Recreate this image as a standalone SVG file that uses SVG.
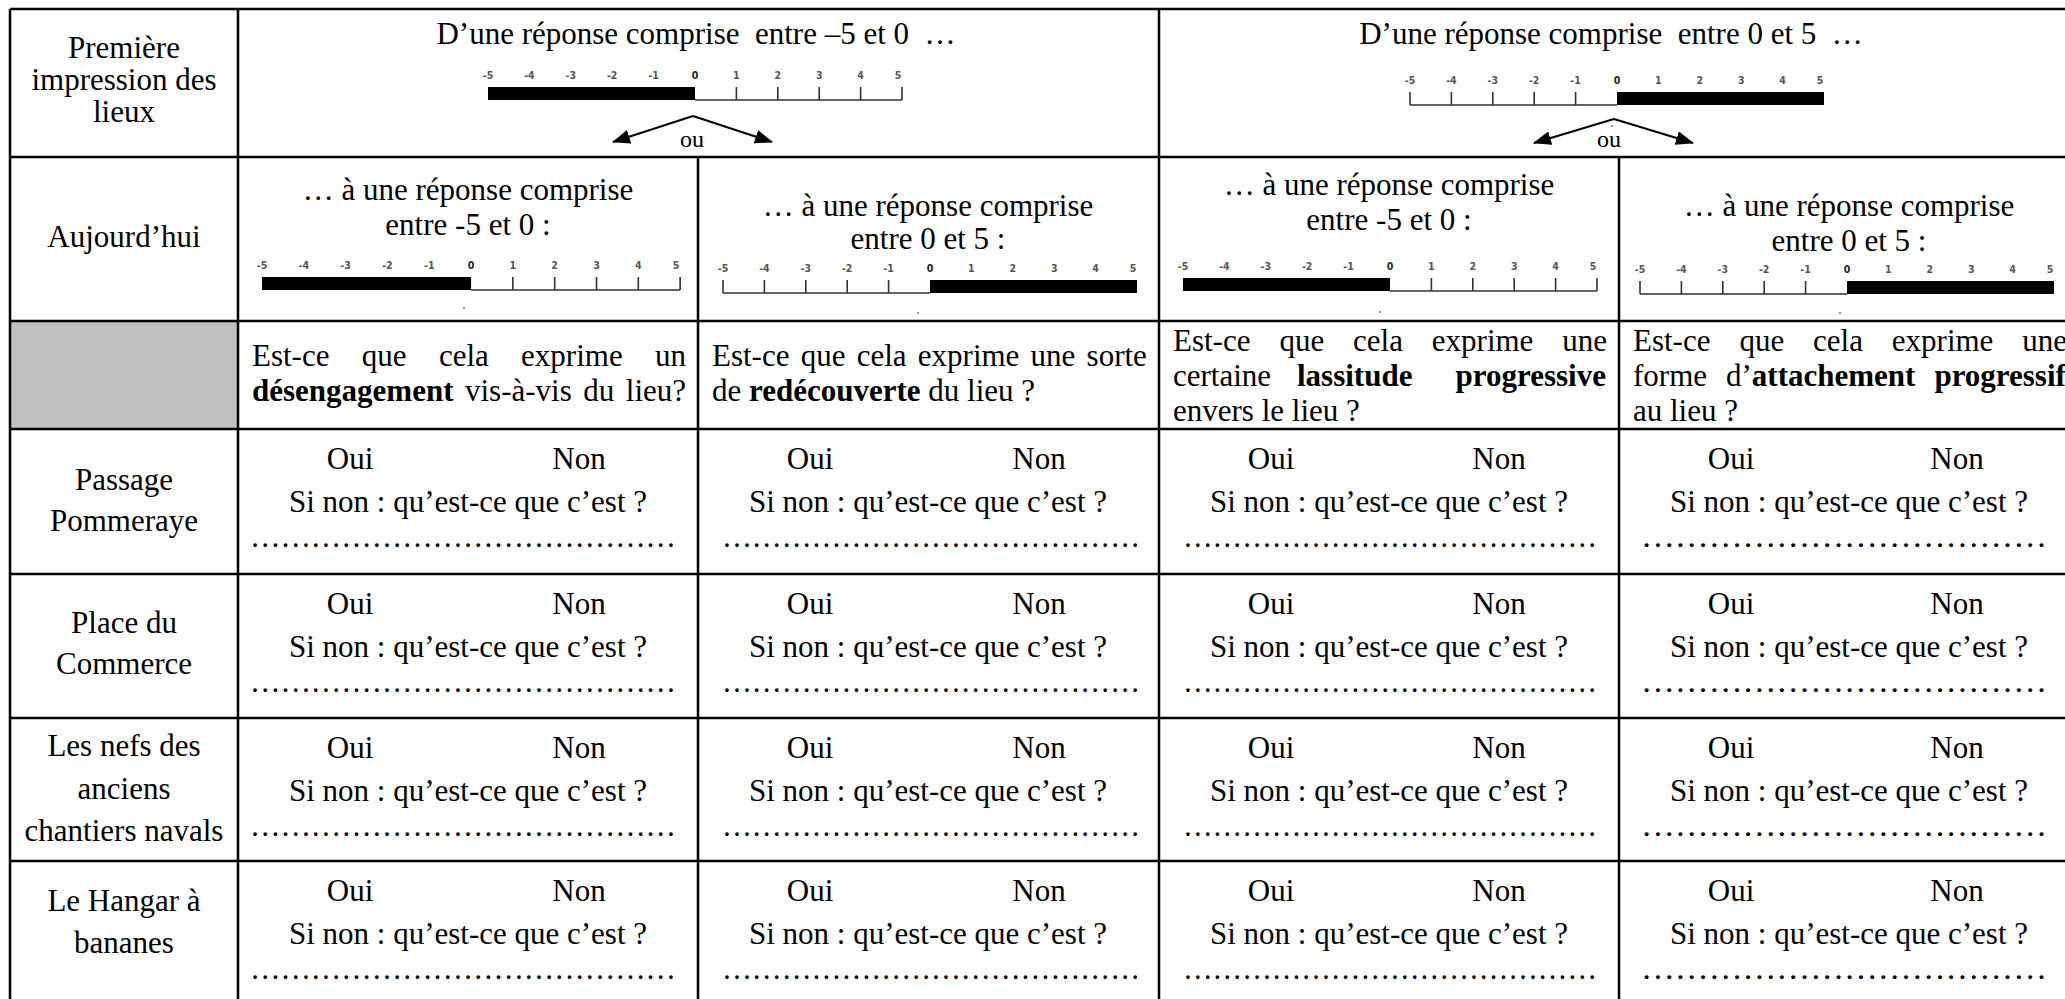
<svg xmlns="http://www.w3.org/2000/svg" width="2065" height="999" viewBox="0 0 2065 999">
<defs>
<style>
.t{font-family:"Liberation Serif","Times New Roman",serif;font-size:31px;fill:#000}
.m{text-anchor:middle}
.b{font-weight:bold}
.lb{font-family:"DejaVu Sans Condensed","DejaVu Sans",sans-serif;font-size:10.5px;font-weight:bold;fill:#555;text-anchor:middle}
.g{stroke:#000;stroke-width:2.5;fill:none}
.s{stroke:#333;stroke-width:1.6;fill:none}
.ar{stroke:#000;stroke-width:2;fill:none;marker-end:url(#ah)}
.dot{fill:#999}
</style>
<marker id="ah" viewBox="0 0 18 14" refX="17" refY="7" markerWidth="18" markerHeight="14" orient="auto" markerUnits="userSpaceOnUse">
<path d="M0,0 L18,7 L0,14 z" fill="#000"/>
</marker>
<g id="lbls">
<text class="lb" x="0" y="-8">-5</text><text class="lb" x="41.4" y="-8">-4</text><text class="lb" x="82.8" y="-8">-3</text><text class="lb" x="124.2" y="-8">-2</text><text class="lb" x="165.6" y="-8">-1</text><text class="lb" x="207" y="-8" style="fill:#222">0</text><text class="lb" x="248.4" y="-8">1</text><text class="lb" x="289.8" y="-8">2</text><text class="lb" x="331.2" y="-8">3</text><text class="lb" x="372.6" y="-8">4</text><text class="lb" x="410" y="-8">5</text>
</g>
<g id="scL">
<use href="#lbls"/>
<rect x="0" y="0" width="207" height="13" fill="#000"/>
<path class="s" d="M207,13 H414 M248.4,0 V13 M289.8,0 V13 M331.2,0 V13 M372.6,0 V13 M414,0 V13"/>
</g>
<g id="scR">
<use href="#lbls"/>
<rect x="207" y="0" width="207" height="13" fill="#000"/>
<path class="s" d="M0,13 H207 M0,0 V13 M41.4,0 V13 M82.8,0 V13 M124.2,0 V13 M165.6,0 V13"/>
</g>
</defs>
<rect x="0" y="0" width="2065" height="999" fill="#fff"/>

<g id="grid">
<rect x="10" y="321" width="228" height="108" fill="#c0c0c0"/>
<path class="g" d="M10,9 H2075 M10,157 H2075 M10,321 H2075 M10,429 H2075 M10,574 H2075 M10,718 H2075 M10,861 H2075 M10,1005 H2075 M10,9 V1005 M238,9 V1005 M1159,9 V1005 M698,157 V1005 M1619,157 V1005"/>
</g>

<g id="h-label">
<text class="t m" x="124" y="58">Première</text>
<text class="t m" x="124" y="90">impression des</text>
<text class="t m" x="124" y="122">lieux</text>
</g>
<g id="h-neg">
<text class="t m" x="696" y="44" xml:space="preserve">D’une réponse comprise  entre –5 et 0  …</text>
<use href="#scL" transform="translate(488,87)"/>
<text class="t m" x="692" y="147" style="font-size:24px">ou</text>
</g>
<g id="h-pos">
<text class="t m" x="1611" y="44" xml:space="preserve">D’une réponse comprise  entre 0 et 5  …</text>
<use href="#scR" transform="translate(1410,92)"/>
<rect class="dot" x="1611" y="125" width="2" height="2"/>
<text class="t m" x="1609" y="147" style="font-size:24px">ou</text>
</g>

<g id="connectors">
<path class="ar" d="M693,116 L613,142"/>
<path class="ar" d="M693,116 L772,142"/>
<path class="ar" d="M1614,119 L1534,143"/>
<path class="ar" d="M1614,119 L1693,143"/>
</g>

<g id="r2-label"><text class="t m" x="124" y="247">Aujourd’hui</text></g>
<g id="r2-c1">
<text class="t m" x="468" y="200">… à une réponse comprise</text>
<text class="t m" x="468" y="235">entre -5 et 0 :</text>
<use href="#scL" transform="translate(262,277) scale(1.01,1)"/>
<rect class="dot" x="463" y="307" width="2" height="2"/>
</g>
<g id="r2-c2">
<text class="t m" x="928" y="216">… à une réponse comprise</text>
<text class="t m" x="928" y="249">entre 0 et 5 :</text>
<use href="#scR" transform="translate(723,280)"/>
<rect class="dot" x="917" y="312" width="2" height="2"/>
</g>
<g id="r2-c3">
<text class="t m" x="1389" y="195">… à une réponse comprise</text>
<text class="t m" x="1389" y="230">entre -5 et 0 :</text>
<use href="#scL" transform="translate(1183,278)"/>
<rect class="dot" x="1379" y="311" width="2" height="2"/>
</g>
<g id="r2-c4">
<text class="t m" x="1849" y="216">… à une réponse comprise</text>
<text class="t m" x="1849" y="251">entre 0 et 5 :</text>
<use href="#scR" transform="translate(1640,281)"/>
<rect class="dot" x="1839" y="312" width="2" height="2"/>
</g>

<g id="r3-c1">
<text class="t" y="366"><tspan x="252">Est-ce</tspan><tspan x="361.8">que</tspan><tspan x="438.9">cela</tspan><tspan x="521.1">exprime</tspan><tspan x="655">un</tspan></text>
<text class="t" y="401"><tspan x="252" class="b">désengagement</tspan><tspan x="465">vis-à-vis</tspan><tspan x="583.3">du</tspan><tspan x="625.8">lieu?</tspan></text>
</g>
<g id="r3-c2">
<text class="t" y="366"><tspan x="712">Est-ce</tspan><tspan x="800.7">que</tspan><tspan x="856.7">cela</tspan><tspan x="917.8">exprime</tspan><tspan x="1030.6">une</tspan><tspan x="1086.6">sorte</tspan></text>
<text class="t" x="712" y="401">de <tspan class="b">redécouverte</tspan> du lieu ?</text>
</g>
<g id="r3-c3">
<text class="t" y="351"><tspan x="1173">Est-ce</tspan><tspan x="1279.4">que</tspan><tspan x="1353">cela</tspan><tspan x="1431.8">exprime</tspan><tspan x="1562.2">une</tspan></text>
<text class="t" y="386"><tspan x="1173">certaine</tspan><tspan x="1297" class="b">lassitude</tspan><tspan x="1455.5" class="b">progressive</tspan></text>
<text class="t" x="1173" y="421">envers le lieu ?</text>
</g>
<g id="r3-c4">
<text class="t" y="351"><tspan x="1633">Est-ce</tspan><tspan x="1739.4">que</tspan><tspan x="1813">cela</tspan><tspan x="1891.8">exprime</tspan><tspan x="2022.2">une</tspan></text>
<text class="t" y="386"><tspan x="1633">forme</tspan><tspan x="1726">d’<tspan class="b">attachement</tspan></tspan><tspan x="1934.4" class="b">progressif</tspan></text>
<text class="t" x="1633" y="421">au lieu ?</text>
</g>

<g id="r4-label">
<text class="t m" x="124" y="490">Passage</text>
<text class="t m" x="124" y="531">Pommeraye</text>
</g>
<g id="r5-label">
<text class="t m" x="124" y="633">Place du</text>
<text class="t m" x="124" y="674">Commerce</text>
</g>
<g id="r6-label">
<text class="t m" x="124" y="756">Les nefs des</text>
<text class="t m" x="124" y="799">anciens</text>
<text class="t m" x="124" y="841">chantiers navals</text>
</g>
<g id="r7-label">
<text class="t m" x="124" y="911">Le Hangar à</text>
<text class="t m" x="124" y="953">bananes</text>
</g>

<g id="answers">
<g id="r4-cells">
<text class="t m" x="350" y="469">Oui</text><text class="t m" x="579" y="469">Non</text>
<text class="t m" x="468" y="512">Si non : qu’est-ce que c’est ?</text>
<text class="t" x="250" y="547" textLength="426" lengthAdjust="spacingAndGlyphs">……………………………………</text>
<text class="t m" x="810" y="469">Oui</text><text class="t m" x="1039" y="469">Non</text>
<text class="t m" x="928" y="512">Si non : qu’est-ce que c’est ?</text>
<text class="t" x="722" y="547" textLength="418" lengthAdjust="spacingAndGlyphs">……………………………………</text>
<text class="t m" x="1271" y="469">Oui</text><text class="t m" x="1499" y="469">Non</text>
<text class="t m" x="1389" y="512">Si non : qu’est-ce que c’est ?</text>
<text class="t" x="1183" y="547" textLength="414" lengthAdjust="spacingAndGlyphs">……………………………………</text>
<text class="t m" x="1731" y="469">Oui</text><text class="t m" x="1957" y="469">Non</text>
<text class="t m" x="1849" y="512">Si non : qu’est-ce que c’est ?</text>
<text class="t" x="1641" y="547" textLength="406" lengthAdjust="spacingAndGlyphs">………………………………</text>
</g>
<g id="r5-cells">
<text class="t m" x="350" y="614">Oui</text><text class="t m" x="579" y="614">Non</text>
<text class="t m" x="468" y="657">Si non : qu’est-ce que c’est ?</text>
<text class="t" x="250" y="692" textLength="426" lengthAdjust="spacingAndGlyphs">……………………………………</text>
<text class="t m" x="810" y="614">Oui</text><text class="t m" x="1039" y="614">Non</text>
<text class="t m" x="928" y="657">Si non : qu’est-ce que c’est ?</text>
<text class="t" x="722" y="692" textLength="418" lengthAdjust="spacingAndGlyphs">……………………………………</text>
<text class="t m" x="1271" y="614">Oui</text><text class="t m" x="1499" y="614">Non</text>
<text class="t m" x="1389" y="657">Si non : qu’est-ce que c’est ?</text>
<text class="t" x="1183" y="692" textLength="414" lengthAdjust="spacingAndGlyphs">……………………………………</text>
<text class="t m" x="1731" y="614">Oui</text><text class="t m" x="1957" y="614">Non</text>
<text class="t m" x="1849" y="657">Si non : qu’est-ce que c’est ?</text>
<text class="t" x="1641" y="692" textLength="406" lengthAdjust="spacingAndGlyphs">………………………………</text>
</g>
<g id="r6-cells">
<text class="t m" x="350" y="758">Oui</text><text class="t m" x="579" y="758">Non</text>
<text class="t m" x="468" y="801">Si non : qu’est-ce que c’est ?</text>
<text class="t" x="250" y="836" textLength="426" lengthAdjust="spacingAndGlyphs">……………………………………</text>
<text class="t m" x="810" y="758">Oui</text><text class="t m" x="1039" y="758">Non</text>
<text class="t m" x="928" y="801">Si non : qu’est-ce que c’est ?</text>
<text class="t" x="722" y="836" textLength="418" lengthAdjust="spacingAndGlyphs">……………………………………</text>
<text class="t m" x="1271" y="758">Oui</text><text class="t m" x="1499" y="758">Non</text>
<text class="t m" x="1389" y="801">Si non : qu’est-ce que c’est ?</text>
<text class="t" x="1183" y="836" textLength="414" lengthAdjust="spacingAndGlyphs">……………………………………</text>
<text class="t m" x="1731" y="758">Oui</text><text class="t m" x="1957" y="758">Non</text>
<text class="t m" x="1849" y="801">Si non : qu’est-ce que c’est ?</text>
<text class="t" x="1641" y="836" textLength="406" lengthAdjust="spacingAndGlyphs">………………………………</text>
</g>
<g id="r7-cells">
<text class="t m" x="350" y="901">Oui</text><text class="t m" x="579" y="901">Non</text>
<text class="t m" x="468" y="944">Si non : qu’est-ce que c’est ?</text>
<text class="t" x="250" y="979" textLength="426" lengthAdjust="spacingAndGlyphs">……………………………………</text>
<text class="t m" x="810" y="901">Oui</text><text class="t m" x="1039" y="901">Non</text>
<text class="t m" x="928" y="944">Si non : qu’est-ce que c’est ?</text>
<text class="t" x="722" y="979" textLength="418" lengthAdjust="spacingAndGlyphs">……………………………………</text>
<text class="t m" x="1271" y="901">Oui</text><text class="t m" x="1499" y="901">Non</text>
<text class="t m" x="1389" y="944">Si non : qu’est-ce que c’est ?</text>
<text class="t" x="1183" y="979" textLength="414" lengthAdjust="spacingAndGlyphs">……………………………………</text>
<text class="t m" x="1731" y="901">Oui</text><text class="t m" x="1957" y="901">Non</text>
<text class="t m" x="1849" y="944">Si non : qu’est-ce que c’est ?</text>
<text class="t" x="1641" y="979" textLength="406" lengthAdjust="spacingAndGlyphs">………………………………</text>
</g>
</g>
</svg>
